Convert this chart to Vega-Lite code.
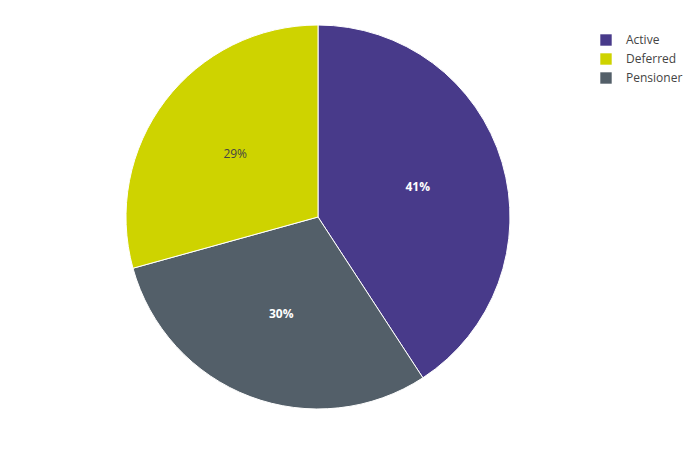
{
  "$schema": "https://vega.github.io/schema/vega-lite/v6.json",
  "width": 636,
  "height": 434,
  "padding": 0,
  "background": "white",
  "config": {"view": {"stroke": null}, "font": "Open Sans"},
  "data": {"values": [
    {"cat": "Active", "value": 40.8, "label": "41%", "ord": 1},
    {"cat": "Pensioner", "value": 29.9, "label": "30%", "ord": 2},
    {"cat": "Deferred", "value": 29.3, "label": "29%", "ord": 3}
  ]},
  "encoding": {
    "theta": {"field": "value", "type": "quantitative", "stack": true},
    "order": {"field": "ord", "type": "quantitative"}
  },
  "layer": [
    {
      "mark": {"type": "arc", "outerRadius": 192, "stroke": "white", "strokeWidth": 1},
      "encoding": {
        "color": {
          "field": "cat", "type": "nominal",
          "scale": {"domain": ["Active", "Deferred", "Pensioner"], "range": ["#483a8a", "#ced300", "#535f69"]},
          "legend": {
            "title": null, "orient": "none", "legendX": 600, "legendY": 34,
            "symbolType": "square", "symbolSize": 130, "symbolStrokeWidth": 0,
            "labelFont": "Open Sans", "labelFontSize": 12, "labelColor": "#444",
            "labelOffset": 14, "rowPadding": 7
          }
        }
      }
    },
    {
      "mark": {"type": "text", "radius": 104, "fontSize": 12, "fontWeight": "bold", "color": "white", "font": "Open Sans"},
      "encoding": {
        "text": {"field": "label"},
        "opacity": {"condition": {"test": "datum.cat === 'Deferred'", "value": 0}, "value": 1}
      }
    },
    {
      "mark": {"type": "text", "radius": 104, "fontSize": 12, "color": "#444", "font": "Open Sans"},
      "encoding": {
        "text": {"field": "label"},
        "opacity": {"condition": {"test": "datum.cat === 'Deferred'", "value": 1}, "value": 0}
      }
    }
  ]
}
